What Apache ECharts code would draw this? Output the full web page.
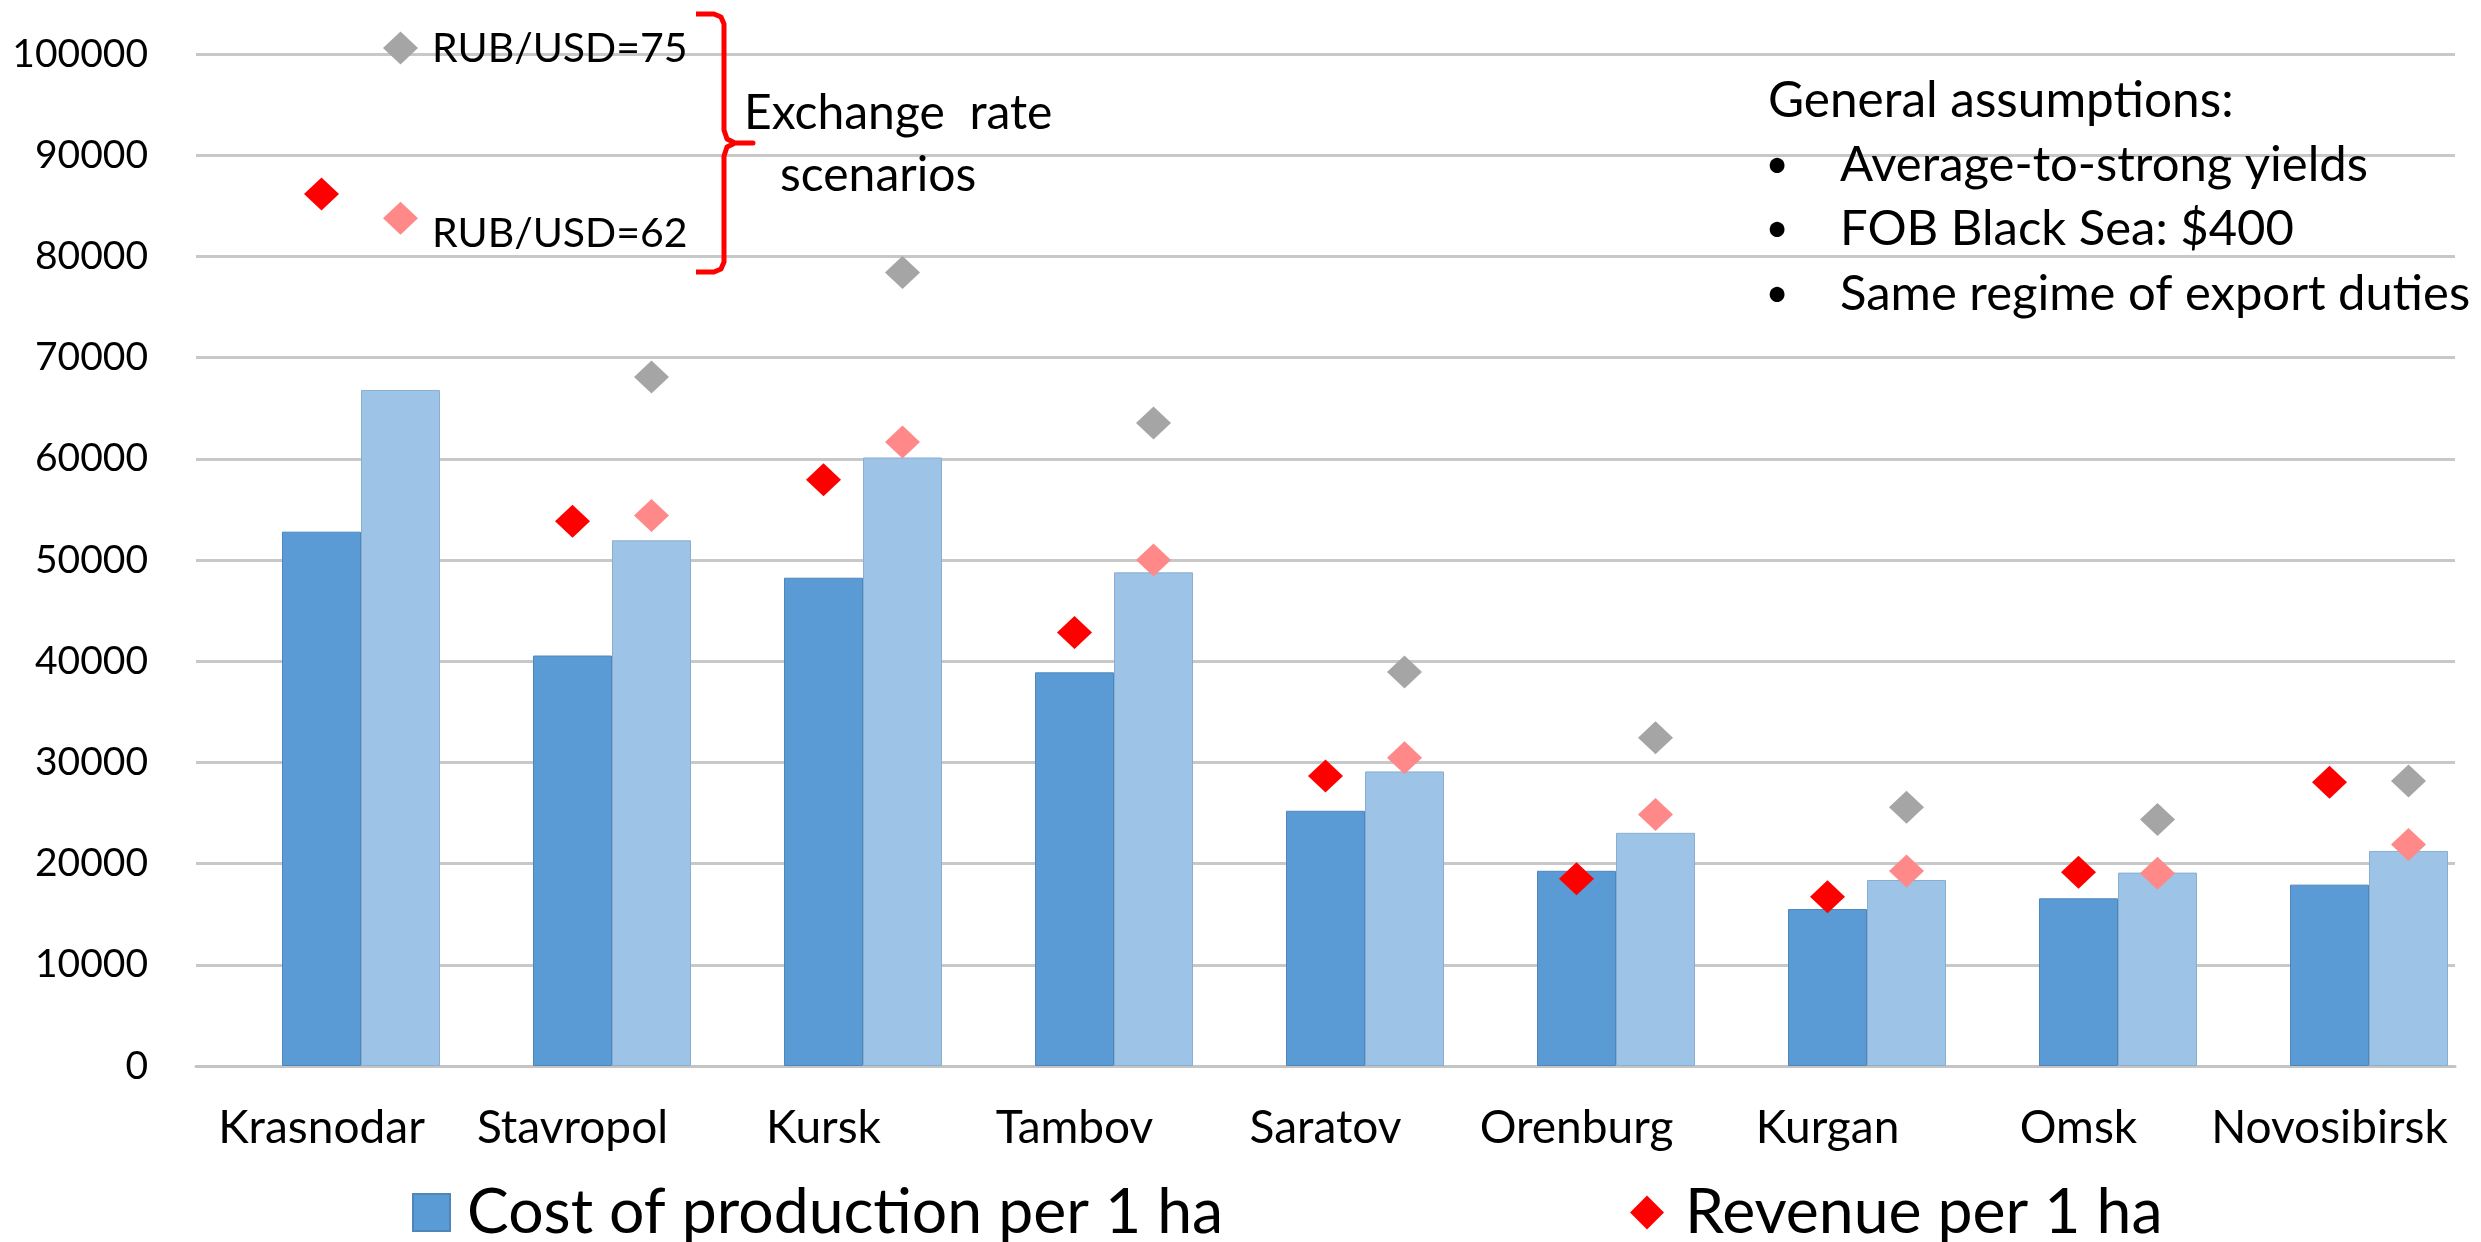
<!DOCTYPE html>
<html>
<head>
<meta charset="utf-8">
<style>
  html, body { margin: 0; padding: 0; background: #ffffff; }
  #chart { width: 2481px; height: 1242px; }
</style>
<script src="https://cdn.jsdelivr.net/npm/echarts@6/dist/echarts.min.js"></script>
</head>
<body>
<div id="chart"></div>
<script>
// ---- data ----
const categories = ['Krasnodar', 'Stavropol', 'Kursk', 'Tambov', 'Saratov', 'Orenburg', 'Kurgan', 'Omsk', 'Novosibirsk'];
const costBase = [52800, 40560, 48250, 38900, 25220, 19290, 15510, 16570, 17920];
const costScenario = [66800, 51950, 60130, 48780, 29110, 23040, 18380, 19110, 21250];
const revenueBase = [86170, 53830, 57920, 42840, 28650, 18510, 16730, 19140, 28050];
const revenueRate62 = [83760, 54390, 61650, 50000, 30460, 24850, 19270, 19040, 21880];
const revenueRate75 = [100600, 68090, 78420, 63530, 38940, 32440, 25580, 24360, 28150];
const yMin = 0, yMax = 100000, yStep = 10000;

const seriesNames = {
  cost: 'Cost of production per 1 ha',
  costScen: 'Cost of production per 1 ha (scenario)',
  rev: 'Revenue per 1 ha',
  rev62: 'Revenue per 1 ha (RUB/USD=62)',
  rev75: 'Revenue per 1 ha (RUB/USD=75)'
};

const FONT = 'Lato, "Open Sans", "Liberation Sans", sans-serif';
const BAR_W = 79;

const chart = echarts.init(document.getElementById('chart'), null, { renderer: 'canvas' });

const option = {
  backgroundColor: '#ffffff',
  animation: false,
  grid: { left: 196, right: 26, top: 54, bottom: 176, containLabel: false },
  xAxis: {
    type: 'category',
    data: categories,
    axisLine: { show: true, lineStyle: { color: '#C4C4C4', width: 3 } },
    axisTick: { show: false },
    axisLabel: { color: '#000', fontFamily: FONT, fontSize: 46, margin: 39, interval: 0 },
    splitLine: { show: false }
  },
  yAxis: {
    type: 'value',
    min: yMin, max: yMax, interval: yStep,
    axisLine: { show: false },
    axisTick: { show: false },
    axisLabel: { color: '#000', fontFamily: FONT, fontSize: 39, margin: 48, formatter: function (v) { return String(v); } },
    splitLine: { show: true, lineStyle: { color: '#C8C8C8', width: 3 } }
  },
  legend: [
    {
      data: [seriesNames.cost],
      left: 412, top: 1181, padding: 0,
      icon: 'rect', itemWidth: 37, itemHeight: 37,
      textStyle: { color: '#000', fontFamily: FONT, fontSize: 62.5, padding: [0, 0, 0, 12] }
    },
    {
      data: [seriesNames.rev],
      left: 1630, top: 1181, padding: 0,
      icon: 'diamond', itemWidth: 34, itemHeight: 34,
      textStyle: { color: '#000', fontFamily: FONT, fontSize: 62.5, padding: [0, 0, 0, 16] }
    }
  ],
  series: [
    {
      name: 'spacer', type: 'bar', data: [], barWidth: BAR_W, silent: true,
      itemStyle: { color: 'rgba(0,0,0,0)' }
    },
    {
      name: seriesNames.cost, type: 'bar', data: costBase, barWidth: BAR_W, barGap: '0%',
      itemStyle: { color: '#5B9BD5', borderColor: '#4F86B9', borderWidth: 1 }
    },
    {
      name: seriesNames.costScen, type: 'bar', data: costScenario, barWidth: BAR_W, barGap: '0%',
      itemStyle: { color: '#9DC3E6', borderColor: '#8AAED0', borderWidth: 1 }
    },
    {
      name: seriesNames.rev, type: 'scatter', data: revenueBase, symbol: 'diamond',
      symbolSize: [35, 33], clip: false, z: 5,
      itemStyle: { color: '#FF0000', opacity: 1 }
    },
    {
      name: seriesNames.rev62, type: 'scatter', data: revenueRate62, symbol: 'diamond',
      symbolSize: [35, 33], symbolOffset: [BAR_W, 0], clip: false, z: 5,
      itemStyle: { color: '#FF8989', opacity: 1 }
    },
    {
      name: seriesNames.rev75, type: 'scatter', data: revenueRate75, symbol: 'diamond',
      symbolSize: [35, 33], symbolOffset: [BAR_W, 0], clip: false, z: 5,
      itemStyle: { color: '#A5A5A5', opacity: 1 }
    }
  ],
  graphic: [
    { type: 'text', x: 432, y: 49, z: 10, style: { text: 'RUB/USD=75', fontFamily: FONT, fontSize: 41, fill: '#000', verticalAlign: 'middle' } },
    { type: 'text', x: 432, y: 234, z: 10, style: { text: 'RUB/USD=62', fontFamily: FONT, fontSize: 41, fill: '#000', verticalAlign: 'middle' } },
    {
      type: 'polyline', z: 10,
      shape: { points: [[696,14],[714,14],[721,17],[724,24],[724,130],[727,139],[735,143],[753,143],[735,143],[727,147],[724,156],[724,262],[721,269],[714,272],[696,272]] },
      style: { stroke: '#FF0000', lineWidth: 5, fill: null, lineJoin: 'round' }
    },
    { type: 'text', x: 744, y: 114, z: 10, style: { text: 'Exchange  rate', fontFamily: FONT, fontSize: 48, fill: '#000', verticalAlign: 'middle' } },
    { type: 'text', x: 780, y: 176, z: 10, style: { text: 'scenarios', fontFamily: FONT, fontSize: 48, fill: '#000', verticalAlign: 'middle' } },
    { type: 'text', x: 1768, y: 101, z: 10, style: { text: 'General assumptions:', fontFamily: FONT, fontSize: 49.5, fill: '#000', verticalAlign: 'middle' } },
    { type: 'text', x: 1777, y: 165, z: 10, style: { text: '•', fontFamily: FONT, fontSize: 40, fill: '#000', align: 'center', verticalAlign: 'middle' } },
    { type: 'text', x: 1840, y: 165, z: 10, style: { text: 'Average-to-strong yields', fontFamily: FONT, fontSize: 49, fill: '#000', verticalAlign: 'middle' } },
    { type: 'text', x: 1777, y: 229, z: 10, style: { text: '•', fontFamily: FONT, fontSize: 40, fill: '#000', align: 'center', verticalAlign: 'middle' } },
    { type: 'text', x: 1840, y: 229, z: 10, style: { text: 'FOB Black Sea: $400', fontFamily: FONT, fontSize: 49, fill: '#000', verticalAlign: 'middle' } },
    { type: 'text', x: 1777, y: 294, z: 10, style: { text: '•', fontFamily: FONT, fontSize: 40, fill: '#000', align: 'center', verticalAlign: 'middle' } },
    { type: 'text', x: 1840, y: 294, z: 10, style: { text: 'Same regime of export duties', fontFamily: FONT, fontSize: 49, fill: '#000', verticalAlign: 'middle' } }
  ]
};

chart.setOption(option);
</script>
</body>
</html>
